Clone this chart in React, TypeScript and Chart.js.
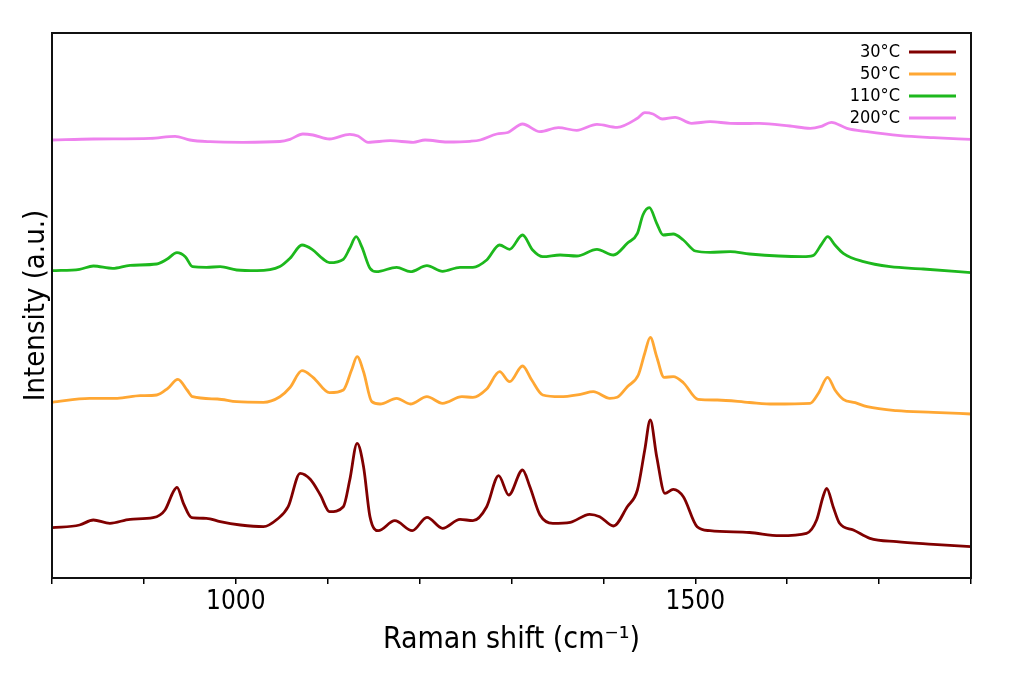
import React, { useEffect, useRef } from "react";
import { Chart, registerables } from "chart.js";

Chart.register(...registerables);

// Raman shift (cm-1) sample positions and intensities (a.u., stacked offsets) for each temperature
const shift30 = [800, 830, 845, 863, 885, 910, 923, 932, 936, 943, 952, 968, 983, 1005, 1030, 1045, 1057, 1070, 1081, 1092, 1102, 1117, 1124, 1132, 1139, 1146, 1155, 1173, 1192, 1208, 1225, 1244, 1258, 1273, 1286, 1297, 1312, 1320, 1331, 1345, 1364, 1385, 1396, 1411, 1426, 1437, 1445, 1451, 1458, 1467, 1476, 1487, 1502, 1516, 1559, 1592, 1621, 1632, 1639, 1643, 1650, 1657, 1672, 1690, 1719, 1759, 1800];
const int30 = [50.3, 53, 58, 54.7, 58.7, 60.3, 68, 86.3, 90.7, 74.7, 60.3, 59.7, 56.3, 53, 51.3, 58.7, 71.3, 104.7, 98.7, 83, 66.3, 71.3, 98, 134.7, 111.3, 61.3, 47.3, 57.3, 47.3, 60.7, 49.7, 58.7, 57.3, 71.3, 102.3, 83, 108, 91.3, 63, 54.7, 55.7, 63.7, 61.3, 52, 71.3, 88, 128, 158, 121.3, 84.7, 88.7, 81.3, 51.3, 47.3, 45.5, 42.3, 44.7, 58, 81.3, 89.7, 71.3, 54.7, 48, 39.7, 36.3, 33.7, 31.3];

const shift50 = [800, 841, 871, 896, 914, 926, 937, 947, 953, 980, 1001, 1030, 1048, 1059, 1072, 1084, 1102, 1117, 1126, 1132, 1139, 1148, 1157, 1175, 1190, 1208, 1225, 1246, 1258, 1273, 1287, 1298, 1312, 1322, 1334, 1353, 1375, 1389, 1407, 1415, 1426, 1438, 1445, 1451, 1458, 1466, 1476, 1487, 1503, 1524, 1559, 1585, 1625, 1634, 1644, 1652, 1661, 1674, 1687, 1719, 1759, 1800];
const int50 = [175.7, 179.7, 179.7, 182.3, 183, 189.7, 198.7, 188, 181.3, 179, 176.3, 175.7, 181.3, 190.5, 207.3, 200.7, 185.3, 188, 208, 221.3, 206.3, 176.3, 174, 179.7, 174, 181.3, 174.7, 181.3, 180.7, 189, 206.3, 196.3, 212, 198, 183, 181.3, 183.7, 186.3, 179.7, 180.7, 191.3, 203, 224.7, 240.7, 221.3, 200.7, 201.3, 195.3, 178.7, 178, 175.5, 174, 174.7, 184.7, 200.7, 188, 178.7, 175.3, 171.3, 167.3, 165.7, 164];

const shift110 = [800, 830, 845, 866, 885, 914, 925, 936, 945, 953, 968, 983, 1001, 1023, 1048, 1059, 1072, 1083, 1095, 1102, 1117, 1124, 1131, 1137, 1146, 1153, 1175, 1190, 1208, 1225, 1244, 1258, 1273, 1287, 1298, 1312, 1323, 1334, 1353, 1371, 1393, 1411, 1426, 1437, 1443, 1450, 1458, 1465, 1476, 1487, 1500, 1516, 1538, 1559, 1617, 1628, 1638, 1644, 1652, 1661, 1683, 1712, 1748, 1800];
const int110 = [307.3, 308.7, 312, 309.7, 312.7, 314, 318.7, 325.3, 321.3, 311.3, 310.7, 311.3, 308, 307.3, 311.5, 319.7, 333, 328.7, 319, 315.3, 318.7, 329.7, 341.3, 331.3, 309.7, 306.3, 310.7, 306.3, 312.3, 306.7, 310.7, 310.7, 318, 333, 328.7, 343, 328, 321.3, 323, 322, 328.7, 323, 334.7, 344.7, 363, 370.3, 354.7, 343, 344, 338, 327, 325.7, 326.3, 324, 321.3, 322.3, 334.7, 341.3, 333, 324.7, 316.3, 311.3, 309, 305.3];

const shift200 = [800, 845, 907, 934, 950, 972, 1008, 1048, 1059, 1073, 1084, 1102, 1124, 1133, 1144, 1168, 1193, 1206, 1230, 1255, 1266, 1284, 1296, 1312, 1331, 1351, 1371, 1393, 1415, 1437, 1445, 1454, 1464, 1478, 1496, 1516, 1538, 1559, 1570, 1603, 1625, 1636, 1648, 1665, 1687, 1723, 1759, 1800];
const int200 = [438, 439, 439.7, 441.7, 438, 436.3, 435.7, 436.5, 438.7, 444, 443, 439, 443.7, 442, 435.7, 437.3, 435.7, 438, 436, 436.7, 438, 444, 445.5, 454, 446.3, 450.3, 447.7, 453.7, 450.7, 459.7, 465.3, 464, 459, 460.7, 454.7, 456.3, 454.7, 454.5, 454.7, 452, 449.7, 451.3, 455.7, 449.7, 446.3, 442.3, 440.3, 438.7];

const seriesLabels = ["30°C", "50°C", "110°C", "200°C"];
const seriesColors = ["#800000", "#FFA733", "#1DB81D", "#EE82EE"];
const xLabelTicks = [1000, 1500];

const FONT = "'DejaVu Sans Condensed', 'DejaVu Sans', sans-serif";

const zip = (xs: number[], ys: number[]) => xs.map((x, i) => ({ x, y: ys[i] }));

const boxAndLegend = {
  id: "boxAndLegend",
  afterDraw(chart: any) {
    const { ctx, chartArea } = chart;
    const { left, top, right, bottom } = chartArea;
    ctx.save();
    ctx.strokeStyle = "#111";
    ctx.lineWidth = 2;
    ctx.strokeRect(left, top, right - left, bottom - top);
    ctx.font = `18px ${FONT}`;
    ctx.textAlign = "right";
    ctx.textBaseline = "middle";
    chart.data.datasets.forEach((ds: any, i: number) => {
      const y = top + 19 + i * 22;
      ctx.fillStyle = "#000";
      ctx.fillText(ds.label, right - 71, y);
      ctx.strokeStyle = ds.borderColor;
      ctx.lineWidth = 2.8;
      ctx.beginPath();
      ctx.moveTo(right - 62, y);
      ctx.lineTo(right - 15, y);
      ctx.stroke();
    });
    ctx.restore();
  },
};

export default function App() {
  const ref = useRef<HTMLCanvasElement | null>(null);
  useEffect(() => {
    if (!ref.current) return;
    Chart.defaults.font.family = FONT;
    Chart.defaults.color = "#000";
    const series = [
      zip(shift30, int30),
      zip(shift50, int50),
      zip(shift110, int110),
      zip(shift200, int200),
    ];
    const chart = new Chart(ref.current, {
      type: "line",
      data: {
        datasets: series.map((d, i) => ({
          label: seriesLabels[i],
          data: d,
          borderColor: seriesColors[i],
          backgroundColor: seriesColors[i],
          borderWidth: 2.8,
          pointRadius: 0,
          cubicInterpolationMode: "monotone" as const,
          fill: false,
        })),
      },
      options: {
        animation: false,
        responsive: true,
        maintainAspectRatio: false,
        layout: { padding: { top: 33, right: 53, left: 0, bottom: 0 } },
        plugins: { legend: { display: false }, tooltip: { enabled: false } },
        scales: {
          x: {
            type: "linear",
            min: 800,
            max: 1800,
            afterFit: (s: any) => {
              s.height = 105;
            },
            border: { display: false },
            grid: {
              display: true,
              drawOnChartArea: false,
              drawTicks: true,
              tickLength: 6,
              color: "#000",
              lineWidth: 1.5,
            },
            ticks: {
              stepSize: 100,
              autoSkip: false,
              maxRotation: 0,
              padding: 3,
              font: { size: 26 },
              color: "#000",
              callback: (v: any) => (xLabelTicks.includes(Number(v)) ? String(v) : ""),
            },
            title: {
              display: true,
              text: "Raman shift (cm⁻¹)",
              font: { size: 30 },
              color: "#000",
              padding: { top: 0, bottom: 25 },
            },
          },
          y: {
            min: 0,
            max: 545,
            afterFit: (s: any) => {
              s.width = 52;
            },
            border: { display: false },
            grid: { display: false, drawTicks: false },
            ticks: { display: false },
            title: {
              display: true,
              text: "Intensity (a.u.)",
              font: { size: 29 },
              color: "#000",
              padding: { top: 19, bottom: 0 },
            },
          },
        },
      },
      plugins: [boxAndLegend],
    });
    return () => chart.destroy();
  }, []);
  return (
    <div style={{ position: "absolute", left: 0, top: 0, width: 1024, height: 683, background: "#fff" }}>
      <canvas ref={ref} />
    </div>
  );
}
